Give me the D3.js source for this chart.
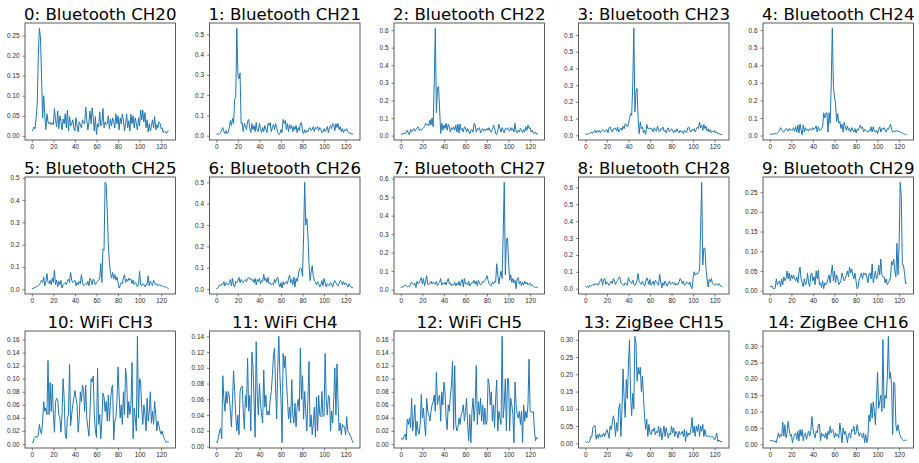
<!DOCTYPE html>
<html>
<head>
<meta charset="utf-8">
<script src="https://cdn.jsdelivr.net/npm/d3@7/dist/d3.min.js"></script>
<style>
  body { margin: 0; background: #fff; }
  svg { display: block; font-family: "DejaVu Sans", sans-serif; }
  .axis text { font-size: 6.4px; fill: #262626; }
  .axis line { stroke: #333; stroke-width: 0.6; }
  .axis .domain { display: none; }
  .panel-title { font-size: 16.6px; fill: #000; }
</style>
</head>
<body>
<div id="chart"></div>
<script>

// ---- data (one value per sample index 0..127) ----
var ch20 = [
  0.012, 0.015, 0.022, 0.018, 0.045, 0.080, 0.200, 0.268, 0.245, 0.150,
  0.045, 0.100, 0.050, 0.016, 0.055, 0.035, 0.030, 0.034, 0.028, 0.033,
  0.028, 0.068, 0.040, 0.022, 0.062, 0.018, 0.050, 0.035, 0.015, 0.042,
  0.030, 0.055, 0.020, 0.064, 0.012, 0.048, 0.025, 0.030, 0.040, 0.020,
  0.012, 0.045, 0.025, 0.010, 0.035, 0.028, 0.020, 0.040, 0.033, 0.030,
  0.072, 0.040, 0.015, 0.035, 0.062, 0.030, 0.070, 0.045, 0.012, 0.048,
  0.003, 0.030, 0.022, 0.060, 0.025, 0.030, 0.068, 0.020, 0.035, 0.028,
  0.030, 0.050, 0.018, 0.042, 0.025, 0.045, 0.035, 0.020, 0.055, 0.030,
  0.050, 0.015, 0.045, 0.030, 0.055, 0.040, 0.012, 0.030, 0.055, 0.020,
  0.038, 0.012, 0.054, 0.030, 0.050, 0.020, 0.045, 0.030, 0.015, 0.045,
  0.025, 0.065, 0.040, 0.064, 0.035, 0.058, 0.020, 0.040, 0.010, 0.030,
  0.012, 0.025, 0.040, 0.020, 0.048, 0.015, 0.028, 0.020, 0.035, 0.032,
  0.018, 0.020, 0.008, 0.012, 0.010, 0.006, 0.012, 0.013
];
var ch21 = [
  0.008, 0.008, 0.009, 0.010, 0.015, 0.030, 0.040, 0.020, 0.010, 0.025,
  0.010, 0.015, 0.040, 0.075, 0.050, 0.085, 0.060, 0.180, 0.190, 0.530,
  0.300, 0.280, 0.310, 0.060, 0.065, 0.020, 0.060, 0.050, 0.030, 0.070,
  0.080, 0.040, 0.015, 0.060, 0.030, 0.050, 0.020, 0.065, 0.025, 0.020,
  0.060, 0.035, 0.015, 0.040, 0.020, 0.050, 0.030, 0.015, 0.060, 0.050,
  0.065, 0.020, 0.040, 0.055, 0.030, 0.060, 0.040, 0.015, 0.005, 0.010,
  0.030, 0.015, 0.080, 0.060, 0.075, 0.030, 0.060, 0.020, 0.055, 0.035,
  0.050, 0.020, 0.045, 0.030, 0.050, 0.015, 0.040, 0.025, 0.060, 0.065,
  0.020, 0.010, 0.030, 0.015, 0.025, 0.020, 0.035, 0.040, 0.025, 0.030,
  0.045, 0.020, 0.040, 0.035, 0.045, 0.025, 0.040, 0.030, 0.015, 0.020,
  0.035, 0.020, 0.030, 0.045, 0.015, 0.040, 0.050, 0.035, 0.060, 0.055,
  0.025, 0.060, 0.040, 0.060, 0.030, 0.045, 0.020, 0.035, 0.015, 0.030,
  0.025, 0.035, 0.020, 0.015, 0.012, 0.010, 0.008, 0.008
];
var ch22 = [
  0.008, 0.008, 0.010, 0.012, 0.010, 0.020, 0.030, 0.015, 0.005, 0.035,
  0.020, 0.030, 0.040, 0.025, 0.035, 0.040, 0.050, 0.030, 0.035, 0.030,
  0.040, 0.045, 0.050, 0.070, 0.060, 0.065, 0.055, 0.090, 0.060, 0.100,
  0.050, 0.300, 0.610, 0.130, 0.270, 0.280, 0.150, 0.012, 0.070, 0.030,
  0.060, 0.040, 0.070, 0.030, 0.065, 0.050, 0.020, 0.045, 0.035, 0.050,
  0.030, 0.060, 0.020, 0.065, 0.015, 0.065, 0.030, 0.040, 0.020, 0.050,
  0.045, 0.020, 0.040, 0.025, 0.010, 0.030, 0.035, 0.020, 0.070, 0.060,
  0.020, 0.040, 0.035, 0.045, 0.015, 0.030, 0.040, 0.025, 0.035, 0.030,
  0.040, 0.030, 0.045, 0.025, 0.020, 0.035, 0.060, 0.045, 0.010, 0.005,
  0.030, 0.065, 0.040, 0.020, 0.045, 0.030, 0.015, 0.040, 0.035, 0.045,
  0.030, 0.025, 0.045, 0.030, 0.040, 0.020, 0.070, 0.025, 0.015, 0.030,
  0.020, 0.040, 0.030, 0.015, 0.035, 0.020, 0.050, 0.030, 0.060, 0.040,
  0.045, 0.020, 0.030, 0.015, 0.010, 0.020, 0.008, 0.008
];
var ch23 = [
  0.005, 0.006, 0.008, 0.010, 0.012, 0.015, 0.018, 0.012, 0.025, 0.030,
  0.015, 0.028, 0.020, 0.030, 0.015, 0.025, 0.035, 0.030, 0.020, 0.030,
  0.035, 0.015, 0.045, 0.050, 0.030, 0.020, 0.040, 0.035, 0.045, 0.025,
  0.050, 0.020, 0.035, 0.045, 0.030, 0.055, 0.040, 0.070, 0.065, 0.050,
  0.070, 0.100, 0.130, 0.120, 0.300, 0.640, 0.140, 0.260, 0.280, 0.100,
  0.010, 0.080, 0.040, 0.050, 0.015, 0.030, 0.005, 0.065, 0.040, 0.040,
  0.045, 0.035, 0.040, 0.020, 0.045, 0.030, 0.025, 0.055, 0.030, 0.020,
  0.040, 0.035, 0.050, 0.025, 0.030, 0.015, 0.035, 0.045, 0.020, 0.030,
  0.040, 0.025, 0.015, 0.030, 0.020, 0.040, 0.025, 0.015, 0.030, 0.020,
  0.025, 0.010, 0.030, 0.020, 0.015, 0.045, 0.050, 0.030, 0.020, 0.035,
  0.030, 0.040, 0.020, 0.035, 0.050, 0.040, 0.080, 0.045, 0.060, 0.030,
  0.065, 0.040, 0.055, 0.025, 0.040, 0.020, 0.035, 0.015, 0.025, 0.020,
  0.030, 0.015, 0.020, 0.010, 0.012, 0.008, 0.005, 0.004
];
var ch24 = [
  0.008, 0.008, 0.008, 0.010, 0.010, 0.012, 0.010, 0.015, 0.020, 0.030,
  0.045, 0.030, 0.025, 0.020, 0.030, 0.040, 0.035, 0.025, 0.040, 0.030,
  0.035, 0.030, 0.045, 0.025, 0.050, 0.020, 0.060, 0.015, 0.065, 0.030,
  0.005, 0.060, 0.020, 0.045, 0.030, 0.035, 0.025, 0.040, 0.035, 0.030,
  0.045, 0.035, 0.040, 0.055, 0.020, 0.050, 0.030, 0.030, 0.040, 0.050,
  0.130, 0.100, 0.125, 0.130, 0.020, 0.130, 0.070, 0.300, 0.610, 0.280,
  0.220, 0.180, 0.080, 0.125, 0.070, 0.080, 0.040, 0.065, 0.020, 0.075,
  0.050, 0.030, 0.055, 0.030, 0.040, 0.020, 0.045, 0.030, 0.020, 0.040,
  0.015, 0.035, 0.030, 0.045, 0.060, 0.040, 0.050, 0.020, 0.035, 0.030,
  0.025, 0.020, 0.030, 0.025, 0.050, 0.020, 0.050, 0.025, 0.020, 0.030,
  0.010, 0.035, 0.050, 0.020, 0.040, 0.035, 0.045, 0.030, 0.020, 0.040,
  0.035, 0.050, 0.065, 0.035, 0.020, 0.025, 0.020, 0.030, 0.025, 0.025,
  0.025, 0.020, 0.015, 0.015, 0.010, 0.008, 0.005, 0.005
];
var ch25 = [
  0.002, 0.003, 0.005, 0.008, 0.010, 0.012, 0.015, 0.020, 0.030, 0.040,
  0.030, 0.055, 0.015, 0.035, 0.070, 0.030, 0.025, 0.040, 0.020, 0.050,
  0.030, 0.085, 0.020, 0.040, 0.010, 0.035, 0.020, 0.040, 0.005, 0.020,
  0.025, 0.030, 0.020, 0.035, 0.045, 0.030, 0.075, 0.040, 0.030, 0.035,
  0.040, 0.015, 0.030, 0.020, 0.035, 0.025, 0.065, 0.030, 0.015, 0.020,
  0.025, 0.020, 0.035, 0.015, 0.050, 0.040, 0.020, 0.045, 0.035, 0.020,
  0.030, 0.035, 0.040, 0.050, 0.115, 0.030, 0.180, 0.175, 0.480, 0.470,
  0.350, 0.200, 0.120, 0.070, 0.050, 0.075, 0.045, 0.065, 0.040, 0.055,
  0.030, 0.005, 0.015, 0.030, 0.025, 0.050, 0.065, 0.030, 0.045, 0.035,
  0.050, 0.040, 0.045, 0.025, 0.040, 0.020, 0.030, 0.025, 0.010, 0.020,
  0.080, 0.020, 0.015, 0.025, 0.020, 0.010, 0.020, 0.020, 0.060, 0.015,
  0.035, 0.025, 0.015, 0.040, 0.030, 0.020, 0.025, 0.015, 0.020, 0.018,
  0.015, 0.015, 0.012, 0.010, 0.010, 0.008, 0.005, 0.003
];
var ch26 = [
  0.002, 0.003, 0.010, 0.020, 0.015, 0.025, 0.020, 0.035, 0.015, 0.030,
  0.025, 0.020, 0.030, 0.045, 0.015, 0.050, 0.020, 0.010, 0.035, 0.030,
  0.040, 0.055, 0.030, 0.045, 0.035, 0.030, 0.040, 0.045, 0.035, 0.050,
  0.055, 0.045, 0.050, 0.040, 0.045, 0.030, 0.050, 0.020, 0.045, 0.035,
  0.050, 0.025, 0.040, 0.035, 0.070, 0.040, 0.050, 0.030, 0.055, 0.025,
  0.030, 0.020, 0.025, 0.020, 0.045, 0.030, 0.050, 0.055, 0.025, 0.010,
  0.030, 0.005, 0.035, 0.020, 0.030, 0.035, 0.025, 0.050, 0.065, 0.030,
  0.045, 0.020, 0.055, 0.010, 0.050, 0.035, 0.060, 0.090, 0.100, 0.095,
  0.060, 0.250, 0.500, 0.300, 0.330, 0.250, 0.120, 0.040, 0.080, 0.110,
  0.060, 0.040, 0.030, 0.020, 0.035, 0.025, 0.010, 0.020, 0.040, 0.015,
  0.050, 0.030, 0.010, 0.025, 0.020, 0.015, 0.030, 0.025, 0.010, 0.030,
  0.040, 0.030, 0.020, 0.015, 0.025, 0.040, 0.035, 0.020, 0.035, 0.020,
  0.030, 0.020, 0.010, 0.025, 0.015, 0.010, 0.008, 0.005
];
var ch27 = [
  0.012, 0.012, 0.015, 0.020, 0.025, 0.020, 0.015, 0.020, 0.015, 0.030,
  0.040, 0.030, 0.025, 0.035, 0.010, 0.045, 0.030, 0.035, 0.050, 0.065,
  0.030, 0.060, 0.020, 0.045, 0.075, 0.030, 0.025, 0.035, 0.045, 0.030,
  0.040, 0.035, 0.030, 0.045, 0.020, 0.035, 0.040, 0.060, 0.025, 0.035,
  0.030, 0.040, 0.025, 0.045, 0.060, 0.030, 0.035, 0.020, 0.030, 0.025,
  0.040, 0.020, 0.035, 0.025, 0.045, 0.020, 0.040, 0.055, 0.015, 0.060,
  0.030, 0.035, 0.025, 0.045, 0.020, 0.030, 0.040, 0.035, 0.050, 0.030,
  0.045, 0.020, 0.050, 0.035, 0.025, 0.030, 0.045, 0.040, 0.050, 0.060,
  0.075, 0.050, 0.030, 0.025, 0.020, 0.040, 0.030, 0.045, 0.040, 0.140,
  0.080, 0.030, 0.070, 0.100, 0.060, 0.300, 0.580, 0.080, 0.270, 0.280,
  0.150, 0.050, 0.080, 0.040, 0.060, 0.035, 0.050, 0.005, 0.060, 0.065,
  0.030, 0.045, 0.020, 0.040, 0.025, 0.045, 0.030, 0.040, 0.025, 0.030,
  0.035, 0.020, 0.025, 0.020, 0.015, 0.012, 0.012, 0.012
];
var ch28 = [
  0.012, 0.010, 0.015, 0.005, 0.020, 0.015, 0.020, 0.025, 0.020, 0.030,
  0.025, 0.030, 0.020, 0.035, 0.050, 0.060, 0.020, 0.055, 0.060, 0.025,
  0.040, 0.030, 0.020, 0.035, 0.045, 0.030, 0.060, 0.045, 0.025, 0.040,
  0.050, 0.065, 0.070, 0.035, 0.030, 0.025, 0.020, 0.035, 0.025, 0.020,
  0.065, 0.045, 0.040, 0.030, 0.050, 0.025, 0.020, 0.030, 0.050, 0.090,
  0.040, 0.035, 0.025, 0.045, 0.030, 0.015, 0.040, 0.065, 0.050, 0.025,
  0.055, 0.020, 0.030, 0.045, 0.020, 0.050, 0.040, 0.030, 0.020, 0.085,
  0.040, 0.005, 0.035, 0.020, 0.045, 0.030, 0.015, 0.035, 0.045, 0.025,
  0.030, 0.040, 0.025, 0.035, 0.020, 0.030, 0.025, 0.040, 0.060, 0.050,
  0.030, 0.045, 0.020, 0.025, 0.040, 0.035, 0.025, 0.040, 0.010, 0.000,
  0.060, 0.100, 0.080, 0.090, 0.085, 0.100, 0.110, 0.350, 0.630, 0.140,
  0.240, 0.240, 0.120, 0.060, 0.010, 0.055, 0.040, 0.060, 0.030, 0.025,
  0.020, 0.030, 0.025, 0.020, 0.030, 0.020, 0.015, 0.010
];
var ch29 = [
  0.010, 0.010, 0.012, 0.006, 0.005, 0.006, 0.030, 0.015, 0.020, 0.025,
  0.010, 0.030, 0.015, 0.035, 0.025, 0.030, 0.050, 0.030, 0.045, 0.025,
  0.040, 0.030, 0.040, 0.030, 0.025, 0.035, 0.020, 0.045, 0.060, 0.030,
  0.020, 0.010, 0.030, 0.015, 0.020, 0.045, 0.020, 0.010, 0.040, 0.045,
  0.025, 0.035, 0.015, 0.050, 0.030, 0.052, 0.015, 0.020, 0.008, 0.025,
  0.005, 0.020, 0.015, 0.020, 0.030, 0.040, 0.020, 0.045, 0.065, 0.025,
  0.050, 0.020, 0.040, 0.030, 0.015, 0.020, 0.025, 0.045, 0.035, 0.025,
  0.030, 0.040, 0.050, 0.035, 0.060, 0.045, 0.055, 0.040, 0.030, 0.045,
  0.025, 0.005, 0.010, 0.030, 0.035, 0.045, 0.030, 0.045, 0.040, 0.045,
  0.035, 0.020, 0.040, 0.045, 0.030, 0.068, 0.020, 0.035, 0.050, 0.030,
  0.035, 0.065, 0.040, 0.080, 0.040, 0.035, 0.035, 0.020, 0.030, 0.015,
  0.020, 0.025, 0.035, 0.075, 0.065, 0.080, 0.050, 0.035, 0.120, 0.040,
  0.120, 0.275, 0.240, 0.065, 0.065, 0.045, 0.018, 0.018
];
var wifi3 = [
  0.003, 0.002, 0.008, 0.010, 0.012, 0.010, 0.013, 0.030, 0.020, 0.015,
  0.035, 0.065, 0.050, 0.055, 0.045, 0.128, 0.045, 0.094, 0.050, 0.092,
  0.045, 0.018, 0.065, 0.070, 0.068, 0.045, 0.040, 0.018, 0.045, 0.100,
  0.070, 0.015, 0.008, 0.040, 0.045, 0.122, 0.028, 0.045, 0.060, 0.070,
  0.082, 0.070, 0.060, 0.018, 0.040, 0.080, 0.065, 0.090, 0.085, 0.050,
  0.090, 0.040, 0.025, 0.012, 0.050, 0.100, 0.095, 0.104, 0.045, 0.020,
  0.010, 0.116, 0.030, 0.045, 0.008, 0.035, 0.078, 0.072, 0.050, 0.065,
  0.035, 0.075, 0.035, 0.065, 0.085, 0.090, 0.006, 0.035, 0.040, 0.065,
  0.118, 0.075, 0.040, 0.060, 0.030, 0.080, 0.045, 0.116, 0.100, 0.040,
  0.065, 0.045, 0.060, 0.125, 0.008, 0.055, 0.040, 0.020, 0.165, 0.040,
  0.100, 0.095, 0.055, 0.030, 0.060, 0.045, 0.020, 0.070, 0.035, 0.050,
  0.080, 0.032, 0.050, 0.030, 0.065, 0.045, 0.020, 0.035, 0.028, 0.020,
  0.015, 0.020, 0.012, 0.008, 0.005, 0.002, 0.004, 0.003
];
var wifi4 = [
  0.006, 0.005, 0.012, 0.020, 0.023, 0.010, 0.090, 0.060, 0.045, 0.070,
  0.055, 0.070, 0.065, 0.045, 0.025, 0.060, 0.096, 0.070, 0.040, 0.020,
  0.040, 0.015, 0.070, 0.075, 0.077, 0.045, 0.022, 0.065, 0.050, 0.112,
  0.045, 0.065, 0.020, 0.120, 0.100, 0.060, 0.012, 0.133, 0.065, 0.040,
  0.080, 0.055, 0.040, 0.030, 0.097, 0.050, 0.065, 0.040, 0.045, 0.040,
  0.060, 0.070, 0.090, 0.115, 0.125, 0.075, 0.035, 0.100, 0.140, 0.090,
  0.060, 0.005, 0.118, 0.100, 0.115, 0.085, 0.060, 0.035, 0.050, 0.030,
  0.085, 0.040, 0.030, 0.055, 0.025, 0.050, 0.060, 0.045, 0.125, 0.060,
  0.090, 0.035, 0.070, 0.045, 0.020, 0.060, 0.108, 0.025, 0.040, 0.015,
  0.030, 0.050, 0.012, 0.063, 0.020, 0.065, 0.040, 0.038, 0.070, 0.038,
  0.040, 0.118, 0.060, 0.040, 0.065, 0.062, 0.020, 0.045, 0.030, 0.060,
  0.100, 0.040, 0.105, 0.055, 0.020, 0.030, 0.015, 0.028, 0.025, 0.025,
  0.015, 0.038, 0.020, 0.018, 0.015, 0.012, 0.008, 0.005
];
var wifi5 = [
  0.008, 0.008, 0.007, 0.012, 0.015, 0.006, 0.038, 0.030, 0.040, 0.025,
  0.070, 0.020, 0.035, 0.060, 0.012, 0.035, 0.020, 0.015, 0.030, 0.076,
  0.040, 0.055, 0.030, 0.012, 0.070, 0.050, 0.045, 0.035, 0.050, 0.060,
  0.065, 0.075, 0.050, 0.110, 0.060, 0.070, 0.075, 0.035, 0.080, 0.060,
  0.095, 0.080, 0.040, 0.022, 0.060, 0.050, 0.075, 0.090, 0.127, 0.022,
  0.120, 0.030, 0.020, 0.025, 0.040, 0.030, 0.045, 0.050, 0.060, 0.035,
  0.050, 0.070, 0.030, 0.005, 0.045, 0.002, 0.050, 0.070, 0.035, 0.060,
  0.120, 0.030, 0.065, 0.045, 0.070, 0.035, 0.060, 0.030, 0.055, 0.030,
  0.035, 0.100, 0.090, 0.060, 0.080, 0.035, 0.060, 0.025, 0.070, 0.098,
  0.020, 0.050, 0.040, 0.030, 0.165, 0.040, 0.060, 0.100, 0.020, 0.100,
  0.100, 0.020, 0.070, 0.060, 0.045, 0.002, 0.095, 0.060, 0.045, 0.040,
  0.050, 0.030, 0.050, 0.002, 0.060, 0.035, 0.050, 0.040, 0.060, 0.130,
  0.050, 0.050, 0.048, 0.050, 0.020, 0.005, 0.010, 0.008
];
var zigbee15 = [
  0.005, 0.003, 0.005, 0.002, 0.006, 0.020, 0.018, 0.045, 0.050, 0.052,
  0.012, 0.025, 0.015, 0.028, 0.018, 0.025, 0.020, 0.030, 0.020, 0.030,
  0.040, 0.030, 0.015, 0.050, 0.040, 0.060, 0.080, 0.065, 0.020, 0.060,
  0.035, 0.100, 0.115, 0.020, 0.100, 0.215, 0.130, 0.075, 0.185, 0.130,
  0.230, 0.300, 0.140, 0.080, 0.145, 0.100, 0.310, 0.290, 0.180, 0.220,
  0.200, 0.220, 0.150, 0.195, 0.130, 0.075, 0.040, 0.070, 0.020, 0.055,
  0.030, 0.025, 0.040, 0.035, 0.045, 0.025, 0.035, 0.030, 0.050, 0.020,
  0.045, 0.010, 0.030, 0.050, 0.020, 0.045, 0.030, 0.015, 0.030, 0.025,
  0.050, 0.030, 0.045, 0.020, 0.035, 0.030, 0.015, 0.035, 0.025, 0.030,
  0.035, 0.020, 0.040, 0.005, 0.035, 0.020, 0.030, 0.025, 0.040, 0.075,
  0.030, 0.050, 0.020, 0.050, 0.035, 0.055, 0.020, 0.050, 0.035, 0.055,
  0.020, 0.040, 0.022, 0.020, 0.022, 0.020, 0.018, 0.020, 0.020, 0.015,
  0.010, 0.020, 0.030, 0.005, 0.010, 0.006, 0.005, 0.004
];
var zigbee16 = [
  0.012, 0.012, 0.010, 0.012, 0.008, 0.010, 0.005, 0.020, 0.035, 0.020,
  0.030, 0.025, 0.068, 0.025, 0.060, 0.020, 0.035, 0.070, 0.045, 0.025,
  0.030, 0.005, 0.020, 0.030, 0.035, 0.015, 0.040, 0.010, 0.045, 0.025,
  0.045, 0.010, 0.030, 0.035, 0.015, 0.030, 0.040, 0.025, 0.040, 0.085,
  0.050, 0.030, 0.020, 0.040, 0.035, 0.060, 0.062, 0.010, 0.035, 0.025,
  0.030, 0.020, 0.035, 0.015, 0.040, 0.030, 0.055, 0.035, 0.045, 0.040,
  0.020, 0.035, 0.025, 0.030, 0.020, 0.065, 0.035, 0.005, 0.050, 0.030,
  0.040, 0.025, 0.005, 0.030, 0.035, 0.020, 0.045, 0.040, 0.055, 0.030,
  0.035, 0.060, 0.040, 0.025, 0.035, 0.030, 0.020, 0.035, 0.005, 0.030,
  0.005, 0.020, 0.090, 0.070, 0.125, 0.080, 0.130, 0.100, 0.060, 0.140,
  0.220, 0.110, 0.130, 0.150, 0.100, 0.320, 0.110, 0.150, 0.140, 0.200,
  0.330, 0.200, 0.220, 0.180, 0.030, 0.190, 0.185, 0.060, 0.040, 0.060,
  0.040, 0.025, 0.020, 0.015, 0.012, 0.012, 0.013, 0.012
];

var panelTitles = [
  "0: Bluetooth CH20", "1: Bluetooth CH21", "2: Bluetooth CH22", "3: Bluetooth CH23", "4: Bluetooth CH24",
  "5: Bluetooth CH25", "6: Bluetooth CH26", "7: Bluetooth CH27", "8: Bluetooth CH28", "9: Bluetooth CH29",
  "10: WiFi CH3", "11: WiFi CH4", "12: WiFi CH5", "13: ZigBee CH15", "14: ZigBee CH16"
];
var panelSeries = [ch20, ch21, ch22, ch23, ch24, ch25, ch26, ch27, ch28, ch29,
                   wifi3, wifi4, wifi5, zigbee15, zigbee16];

var xTickValues = [0, 20, 40, 60, 80, 100, 120];
var ticks005 = ["0.00", "0.05", "0.10", "0.15", "0.20", "0.25"];
var ticks01to5 = ["0.0", "0.1", "0.2", "0.3", "0.4", "0.5"];
var ticks01to6 = ["0.0", "0.1", "0.2", "0.3", "0.4", "0.5", "0.6"];
var ticks002to16 = ["0.00", "0.02", "0.04", "0.06", "0.08", "0.10", "0.12", "0.14", "0.16"];
var ticks002to14 = ["0.00", "0.02", "0.04", "0.06", "0.08", "0.10", "0.12", "0.14"];
var ticks005to30 = ["0.00", "0.05", "0.10", "0.15", "0.20", "0.25", "0.30"];
var panelYTicks = [ticks005, ticks01to5, ticks01to6, ticks01to6, ticks01to6,
                   ticks01to5, ticks01to5, ticks01to6, ticks01to6, ticks005,
                   ticks002to16, ticks002to14, ticks002to16, ticks005to30, ticks005to30];

// ---- layout ----
var colLeft = [25, 209.5, 394, 578.5, 763];
var rowTop = [23, 177, 331];
var panelW = 150.5, panelH = 117;

var svg = d3.select("#chart").append("svg")
    .attr("width", 919)
    .attr("height", 463);

svg.append("rect").attr("width", 919).attr("height", 463).attr("fill", "#fff");

/*
 * LinePanel - one small subplot
 */
LinePanel = function(_svg, _index) {
  this.svg = _svg;
  this.index = _index;
  this.data = panelSeries[_index];
  this.initVis();
}

LinePanel.prototype.initVis = function() {
  var vis = this;

  vis.left = colLeft[vis.index % 5];
  vis.top = rowTop[Math.floor(vis.index / 5)];

  vis.g = vis.svg.append("g")
      .attr("transform", "translate(" + vis.left + "," + vis.top + ")");

  // matplotlib-like auto limits (5% margins)
  var n = vis.data.length - 1;
  vis.x = d3.scaleLinear()
      .domain([-0.05 * n, n * 1.05])
      .range([0, panelW]);

  var ext = d3.extent(vis.data);
  var pad = (ext[1] - ext[0]) * 0.05;
  vis.y = d3.scaleLinear()
      .domain([ext[0] - pad, ext[1] + pad])
      .range([panelH, 0]);

  var labels = panelYTicks[vis.index];

  vis.xAxis = d3.axisBottom(vis.x)
      .tickValues(xTickValues)
      .tickSize(2.5)
      .tickPadding(2);

  vis.yAxis = d3.axisLeft(vis.y)
      .tickValues(labels.map(function(d) { return +d; }))
      .tickFormat(function(d, i) { return labels[i]; })
      .tickSize(2.5)
      .tickPadding(3);

  vis.g.append("g")
      .attr("class", "axis x-axis")
      .attr("transform", "translate(0," + panelH + ")")
      .call(vis.xAxis);

  vis.g.append("g")
      .attr("class", "axis y-axis")
      .call(vis.yAxis);

  // clip the line to the axes box
  vis.g.append("clipPath")
      .attr("id", "clip" + vis.index)
      .append("rect")
      .attr("width", panelW)
      .attr("height", panelH);

  vis.line = d3.line()
      .x(function(d, i) { return vis.x(i); })
      .y(function(d) { return vis.y(d); });

  vis.g.append("path")
      .datum(vis.data)
      .attr("clip-path", "url(#clip" + vis.index + ")")
      .attr("fill", "none")
      .attr("stroke", "#1f77b4")
      .attr("stroke-width", 1)
      .attr("stroke-linejoin", "round")
      .attr("d", vis.line);

  // frame
  vis.g.append("rect")
      .attr("width", panelW)
      .attr("height", panelH)
      .attr("fill", "none")
      .attr("stroke", "#333")
      .attr("stroke-width", 0.8);

  // title
  vis.g.append("text")
      .attr("class", "panel-title")
      .attr("x", panelW / 2)
      .attr("y", -3.5)
      .attr("text-anchor", "middle")
      .text(panelTitles[vis.index]);
}

var panels = [];
for (var i = 0; i < panelSeries.length; i++) {
  panels.push(new LinePanel(svg, i));
}

</script>
</body>
</html>
